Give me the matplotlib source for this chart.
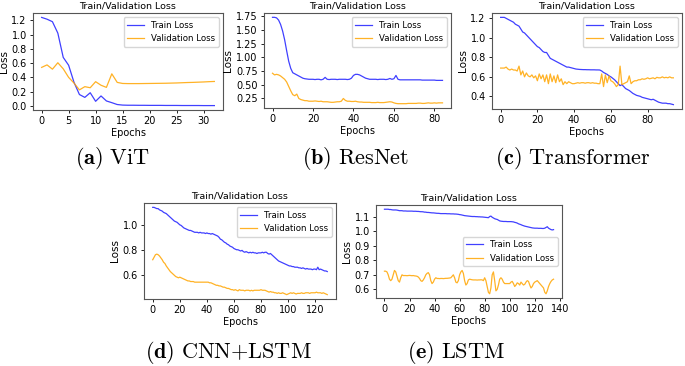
import numpy as np
import matplotlib
matplotlib.use("Agg")
import matplotlib.pyplot as plt
from matplotlib.ticker import MultipleLocator

plt.rcParams['mathtext.fontset'] = 'cm'

# (a) ViT
vit_train = [1.24, 1.215, 1.18, 1.02, 0.68, 0.57, 0.33, 0.16, 0.12, 0.185, 0.065,
             0.14, 0.07, 0.046, 0.02, 0.012, 0.01, 0.01, 0.009, 0.009, 0.008, 0.008,
             0.008, 0.007, 0.007, 0.007, 0.006, 0.006, 0.006, 0.006, 0.005, 0.005, 0.005]
vit_val = [0.54, 0.575, 0.515, 0.605, 0.52, 0.40, 0.32, 0.225, 0.27, 0.255, 0.34,
           0.29, 0.26, 0.45, 0.33, 0.315, 0.313, 0.313, 0.313, 0.314, 0.315, 0.316,
           0.317, 0.318, 0.32, 0.322, 0.325, 0.328, 0.33, 0.333, 0.336, 0.34, 0.343]

# (b) ResNet
res_train = [1.73, 1.73, 1.72, 1.68, 1.60, 1.48, 1.32, 1.12, 0.93, 0.80,
             0.72, 0.70, 0.68, 0.66, 0.64, 0.62, 0.61, 0.605, 0.60, 0.60,
             0.60, 0.595, 0.60, 0.60, 0.59, 0.60, 0.635, 0.60, 0.595, 0.60,
             0.60, 0.60, 0.595, 0.60, 0.60, 0.60, 0.60, 0.595, 0.60, 0.62,
             0.67, 0.69, 0.69, 0.68, 0.66, 0.64, 0.62, 0.61, 0.60, 0.60,
             0.60, 0.60, 0.595, 0.60, 0.60, 0.60, 0.595, 0.60, 0.615, 0.60,
             0.61, 0.67, 0.60, 0.59, 0.59, 0.59, 0.59, 0.59, 0.59, 0.59,
             0.59, 0.59, 0.59, 0.59, 0.585, 0.585, 0.585, 0.585, 0.585, 0.585,
             0.585, 0.58, 0.58, 0.58, 0.58]
res_val = [0.71, 0.68, 0.69, 0.68, 0.66, 0.63, 0.60, 0.55, 0.47, 0.39,
           0.32, 0.30, 0.33, 0.25, 0.23, 0.22, 0.21, 0.21, 0.20, 0.20,
           0.20, 0.205, 0.20, 0.195, 0.20, 0.19, 0.19, 0.19, 0.185, 0.18,
           0.18, 0.185, 0.19, 0.19, 0.20, 0.25, 0.215, 0.20, 0.20, 0.195,
           0.195, 0.20, 0.19, 0.185, 0.185, 0.18, 0.18, 0.18, 0.18, 0.175,
           0.175, 0.175, 0.18, 0.175, 0.175, 0.175, 0.18, 0.185, 0.19, 0.185,
           0.17, 0.16, 0.155, 0.155, 0.155, 0.155, 0.155, 0.16, 0.16, 0.16,
           0.16, 0.16, 0.165, 0.165, 0.16, 0.16, 0.165, 0.17, 0.165, 0.165,
           0.17, 0.165, 0.17, 0.17, 0.17]

# (c) Transformer
tf_train = [1.21, 1.21, 1.21, 1.20, 1.19, 1.18, 1.17, 1.16, 1.14, 1.13,
            1.12, 1.09, 1.06, 1.05, 1.03, 1.01, 0.99, 0.97, 0.95, 0.93,
            0.91, 0.90, 0.88, 0.86, 0.85, 0.85, 0.82, 0.79, 0.78, 0.77,
            0.76, 0.75, 0.74, 0.73, 0.72, 0.71, 0.70, 0.70, 0.695, 0.69,
            0.685, 0.68, 0.678, 0.676, 0.675, 0.674, 0.674, 0.673, 0.673, 0.672,
            0.672, 0.672, 0.671, 0.671, 0.67, 0.66, 0.645, 0.635, 0.625, 0.61,
            0.60, 0.585, 0.57, 0.55, 0.53, 0.51, 0.52, 0.50, 0.48, 0.47,
            0.46, 0.445, 0.43, 0.42, 0.41, 0.405, 0.40, 0.39, 0.385, 0.38,
            0.375, 0.37, 0.365, 0.37, 0.36, 0.35, 0.34, 0.335, 0.33, 0.33,
            0.33, 0.325, 0.325, 0.32, 0.315]
tf_val = [0.69, 0.69, 0.69, 0.70, 0.68, 0.67, 0.68, 0.67, 0.67, 0.66,
          0.71, 0.62, 0.66, 0.60, 0.64, 0.61, 0.60, 0.62, 0.59, 0.61,
          0.56, 0.63, 0.58, 0.62, 0.55, 0.62, 0.53, 0.63, 0.55, 0.61,
          0.54, 0.62, 0.55, 0.58, 0.52, 0.55, 0.53, 0.55, 0.54, 0.53,
          0.53, 0.535, 0.54, 0.535, 0.54, 0.54, 0.535, 0.54, 0.54, 0.535,
          0.54, 0.535, 0.535, 0.53, 0.53, 0.63, 0.50, 0.62, 0.54, 0.61,
          0.56, 0.55, 0.53, 0.50, 0.52, 0.71, 0.52, 0.53, 0.54, 0.55,
          0.61, 0.53, 0.55, 0.56, 0.56, 0.57, 0.57, 0.58, 0.575, 0.58,
          0.59, 0.58, 0.585, 0.59, 0.58, 0.595, 0.59, 0.59, 0.60, 0.59,
          0.595, 0.59, 0.60, 0.59, 0.59]

# (d) CNN+LSTM
cl_train = [1.14, 1.14, 1.135, 1.13, 1.13, 1.12, 1.115, 1.11, 1.10, 1.095,
            1.09, 1.08, 1.07, 1.06, 1.05, 1.04, 1.03, 1.025, 1.02, 1.01,
            1.00, 0.995, 0.985, 0.975, 0.97, 0.965, 0.96, 0.955, 0.955, 0.95,
            0.945, 0.94, 0.94, 0.94, 0.935, 0.94, 0.935, 0.935, 0.935, 0.93,
            0.935, 0.93, 0.93, 0.925, 0.93, 0.925, 0.92, 0.915, 0.91, 0.90,
            0.885, 0.88, 0.87, 0.86, 0.855, 0.845, 0.84, 0.83, 0.825, 0.82,
            0.81, 0.805, 0.80, 0.80, 0.795, 0.79, 0.795, 0.785, 0.78, 0.785,
            0.78, 0.775, 0.78, 0.775, 0.78, 0.775, 0.775, 0.77, 0.775, 0.775,
            0.775, 0.78, 0.775, 0.78, 0.78, 0.77, 0.765, 0.77, 0.76, 0.75,
            0.74, 0.73, 0.72, 0.71, 0.705, 0.70, 0.695, 0.69, 0.685, 0.68,
            0.675, 0.67, 0.67, 0.665, 0.665, 0.66, 0.66, 0.66, 0.655, 0.655,
            0.65, 0.655, 0.65, 0.645, 0.65, 0.645, 0.645, 0.645, 0.64, 0.645,
            0.645, 0.64, 0.66, 0.64, 0.645, 0.64, 0.635, 0.63, 0.63, 0.625]
cl_val = [0.72, 0.74, 0.76, 0.765, 0.76, 0.75, 0.735, 0.72, 0.70, 0.69,
          0.67, 0.655, 0.64, 0.625, 0.615, 0.605, 0.595, 0.585, 0.58, 0.575,
          0.58, 0.575, 0.57, 0.565, 0.56, 0.555, 0.55, 0.55, 0.545, 0.545,
          0.545, 0.54, 0.54, 0.54, 0.54, 0.54, 0.54, 0.54, 0.54, 0.54,
          0.54, 0.54, 0.535, 0.535, 0.53, 0.525, 0.52, 0.515, 0.515, 0.51,
          0.51, 0.505, 0.50, 0.50, 0.495, 0.49, 0.49, 0.485, 0.48, 0.48,
          0.475, 0.48, 0.475, 0.47, 0.48, 0.475, 0.475, 0.475, 0.47, 0.475,
          0.475, 0.475, 0.47, 0.475, 0.47, 0.475, 0.475, 0.475, 0.475, 0.475,
          0.48, 0.475, 0.475, 0.475, 0.47, 0.465, 0.46, 0.465, 0.46, 0.46,
          0.455, 0.455, 0.45, 0.455, 0.45, 0.45, 0.455, 0.45, 0.445, 0.44,
          0.445, 0.45, 0.455, 0.45, 0.455, 0.45, 0.445, 0.45, 0.45, 0.45,
          0.455, 0.45, 0.45, 0.455, 0.455, 0.455, 0.45, 0.455, 0.455, 0.455,
          0.455, 0.46, 0.455, 0.455, 0.455, 0.45, 0.455, 0.45, 0.445, 0.44]

# (e) LSTM
ls_train = [1.15, 1.15, 1.15, 1.15, 1.148, 1.148, 1.146, 1.145, 1.145, 1.145,
            1.144, 1.142, 1.14, 1.14, 1.14, 1.138, 1.138, 1.138, 1.137, 1.137,
            1.137, 1.137, 1.137, 1.136, 1.136, 1.136, 1.135, 1.135, 1.134, 1.133,
            1.133, 1.132, 1.13, 1.13, 1.128, 1.128, 1.127, 1.126, 1.125, 1.125,
            1.124, 1.123, 1.122, 1.122, 1.121, 1.12, 1.12, 1.12, 1.12, 1.12,
            1.119, 1.119, 1.119, 1.118, 1.118, 1.118, 1.117, 1.117, 1.116, 1.115,
            1.113, 1.112, 1.11, 1.108, 1.106, 1.105, 1.104, 1.103, 1.102, 1.101,
            1.10, 1.10, 1.10, 1.099, 1.099, 1.098, 1.098, 1.097, 1.097, 1.096,
            1.095, 1.094, 1.093, 1.092, 1.10, 1.103, 1.095, 1.09, 1.085, 1.082,
            1.08, 1.075, 1.07, 1.068, 1.067, 1.066, 1.066, 1.066, 1.065, 1.065,
            1.065, 1.065, 1.064, 1.063, 1.06, 1.058, 1.055, 1.05, 1.047, 1.044,
            1.04, 1.037, 1.034, 1.032, 1.03, 1.028, 1.026, 1.024, 1.022, 1.021,
            1.02, 1.02, 1.02, 1.019, 1.019, 1.019, 1.018, 1.018, 1.02, 1.025,
            1.03, 1.02, 1.015, 1.01, 1.008, 1.01]
ls_val = [0.725, 0.725, 0.72, 0.70, 0.67, 0.66, 0.67, 0.70, 0.73, 0.72,
          0.69, 0.66, 0.65, 0.68, 0.70, 0.695, 0.695, 0.695, 0.694, 0.695,
          0.696, 0.695, 0.694, 0.695, 0.693, 0.692, 0.69, 0.685, 0.675, 0.66,
          0.655, 0.665, 0.68, 0.70, 0.71, 0.715, 0.70, 0.66, 0.64, 0.65,
          0.67, 0.68, 0.675, 0.675, 0.674, 0.675, 0.675, 0.674, 0.675, 0.676,
          0.676, 0.677, 0.678, 0.68, 0.69, 0.70, 0.68, 0.65, 0.645, 0.66,
          0.70, 0.72, 0.73, 0.71, 0.66, 0.63, 0.64, 0.665, 0.67, 0.668,
          0.666, 0.665, 0.665, 0.665, 0.664, 0.665, 0.665, 0.666, 0.665, 0.66,
          0.68, 0.66, 0.62, 0.58, 0.57, 0.61, 0.70, 0.72, 0.66, 0.59,
          0.60, 0.63, 0.67, 0.68, 0.67, 0.65, 0.64, 0.64, 0.64, 0.64,
          0.64, 0.65, 0.655, 0.64, 0.62, 0.63, 0.645, 0.64, 0.63, 0.65,
          0.64, 0.63, 0.635, 0.65, 0.66, 0.655, 0.63, 0.61, 0.62, 0.64,
          0.65, 0.655, 0.66, 0.65, 0.64, 0.63, 0.62, 0.61, 0.58, 0.57,
          0.59, 0.62, 0.64, 0.655, 0.665, 0.67]

# train, val, axes box in px (l, t, r, b), caption, caption centre px, legend loc, x step, y step
panels = [
    (vit_train, vit_val, [33, 13, 223, 110], r'$\mathbf{(a)}\ \mathrm{ViT}$', (112, 158), 'upper right', 5, 0.2),
    (res_train, res_val, [264, 13, 451, 108], r'$\mathbf{(b)}\ \mathrm{ResNet}$', (355, 158), 'upper right', 20, 0.25),
    (tf_train, tf_val, [492, 13, 682, 109], r'$\mathbf{(c)}\ \mathrm{Transformer}$', (573, 158), 'upper right', 20, 0.2),
    (cl_train, cl_val, [144, 203, 336, 299], r'$\mathbf{(d)}\ \mathrm{CNN}{+}\mathrm{LSTM}$', (228, 352), 'upper right', 20, 0.2),
    (ls_train, ls_val, [376, 205, 562, 298], r'$\mathbf{(e)}\ \mathrm{LSTM}$', (456, 352), 'center right', 20, 0.1),
]

W, H = 685, 366
fig = plt.figure(figsize=(W / 100, H / 100), dpi=100)

for train, val, (x0, y0, x1, y1), cap, (cx, cy), loc, xs, ys in panels:
    ax = fig.add_axes([x0 / W, 1 - y1 / H, (x1 - x0) / W, (y1 - y0) / H])
    ep = np.arange(len(train))
    ax.plot(ep, train, color='blue', alpha=0.75, lw=0.9, label='Train Loss')
    ax.plot(ep, val, color='orange', alpha=0.85, lw=0.9, label='Validation Loss')
    ax.xaxis.set_major_locator(MultipleLocator(xs))
    ax.yaxis.set_major_locator(MultipleLocator(ys))
    ax.set_title('Train/Validation Loss', fontsize=6.8, pad=3)
    ax.set_xlabel('Epochs', fontsize=7, labelpad=1)
    ax.set_ylabel('Loss', fontsize=7.5, labelpad=2)
    ax.tick_params(labelsize=7, length=2.5, width=0.6, pad=2)
    for s in ax.spines.values():
        s.set_color('#555555')
        s.set_linewidth(0.8)
    ax.legend(loc=loc, fontsize=6.2)
    fig.text(cx / W, 1 - cy / H, cap, fontsize=16, ha='center', va='center')

fig.savefig('out.png', dpi=100)
